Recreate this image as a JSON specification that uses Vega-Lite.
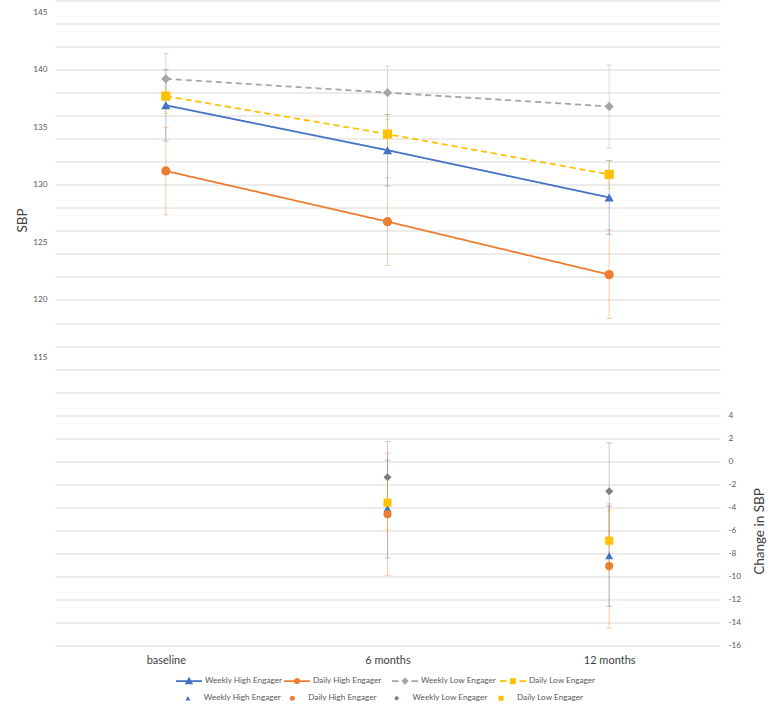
{
  "$schema": "https://vega.github.io/schema/vega-lite/v6.json",
  "width": 665,
  "height": 645,
  "autosize": {"type": "none"},
  "padding": {"left": 55, "top": 0.5, "right": 54, "bottom": 65.5},
  "background": "white",
  "config": {
    "font": "Lato",
    "view": {"stroke": null},
    "axis": {
      "labelColor": "#595959",
      "titleColor": "#404040",
      "titleFontWeight": "normal",
      "ticks": false,
      "domain": false,
      "grid": false
    }
  },
  "datasets": {
    "sbp": [
      {"time": "baseline", "series": "Weekly High Engager", "sbp": 136.9, "lo": 133.8, "hi": 140.0},
      {"time": "baseline", "series": "Daily High Engager", "sbp": 131.2, "lo": 127.4, "hi": 135.0},
      {"time": "baseline", "series": "Weekly Low Engager", "sbp": 139.2, "lo": 137.0, "hi": 141.4},
      {"time": "baseline", "series": "Daily Low Engager", "sbp": 137.7, "lo": 136.2, "hi": 139.2},
      {"time": "6 months", "series": "Weekly High Engager", "sbp": 133.0, "lo": 129.9, "hi": 136.1},
      {"time": "6 months", "series": "Daily High Engager", "sbp": 126.8, "lo": 123.0, "hi": 130.6},
      {"time": "6 months", "series": "Weekly Low Engager", "sbp": 138.0, "lo": 135.7, "hi": 140.3},
      {"time": "6 months", "series": "Daily Low Engager", "sbp": 134.4, "lo": 132.7, "hi": 136.1},
      {"time": "12 months", "series": "Weekly High Engager", "sbp": 128.9, "lo": 125.7, "hi": 132.1},
      {"time": "12 months", "series": "Daily High Engager", "sbp": 122.2, "lo": 118.4, "hi": 126.1},
      {"time": "12 months", "series": "Weekly Low Engager", "sbp": 136.8, "lo": 133.2, "hi": 140.4},
      {"time": "12 months", "series": "Daily Low Engager", "sbp": 130.9, "lo": 129.7, "hi": 132.1}
    ],
    "change": [
      {"time": "6 months", "series": "Weekly High Engager", "chg": -4.1, "lo": -8.4, "hi": 0.1},
      {"time": "6 months", "series": "Daily High Engager", "chg": -4.6, "lo": -9.9, "hi": 0.7},
      {"time": "6 months", "series": "Weekly Low Engager", "chg": -1.4, "lo": -4.5, "hi": 1.7},
      {"time": "6 months", "series": "Daily Low Engager", "chg": -3.6, "lo": -5.9, "hi": -1.3},
      {"time": "12 months", "series": "Weekly High Engager", "chg": -8.2, "lo": -12.6, "hi": -3.9},
      {"time": "12 months", "series": "Daily High Engager", "chg": -9.1, "lo": -14.5, "hi": -3.7},
      {"time": "12 months", "series": "Weekly Low Engager", "chg": -2.6, "lo": -6.8, "hi": 1.6},
      {"time": "12 months", "series": "Daily Low Engager", "chg": -6.9, "lo": -9.5, "hi": -4.3}
    ],
    "groups": [
      {"series": "Weekly High Engager"},
      {"series": "Daily High Engager"},
      {"series": "Weekly Low Engager"},
      {"series": "Daily Low Engager"}
    ]
  },
  "resolve": {
    "scale": {"y": "independent", "color": "independent", "shape": "independent", "stroke": "independent", "strokeDash": "independent"}
  },
  "layer": [
    {
      "data": {"name": "sbp"},
      "layer": [
        {
          "mark": {"type": "errorbar", "ticks": {"size": 6}, "thickness": 1, "opacity": 0.4},
          "encoding": {
            "x": {
              "field": "time", "type": "ordinal",
              "scale": {"type": "point", "domain": ["baseline", "6 months", "12 months"], "padding": 0.5},
              "axis": {"title": null, "labelAngle": 0, "labelFontSize": 11, "labelPadding": 9, "labelColor": "#404040"}
            },
            "y": {
              "field": "hi", "type": "quantitative",
              "scale": {"domain": [90, 146], "zero": false, "nice": false},
              "axis": {
                "orient": "left", "title": "SBP", "values": [115, 120, 125, 130, 135, 140, 145],
                "labelFontSize": 8.2, "labelPadding": 8, "titleFontSize": 13.5,
                "titleAngle": 270, "titleBaseline": "middle", "titleX": -33, "titleY": 219.5
              }
            },
            "y2": {"field": "lo"},
            "color": {"field": "series", "type": "nominal", "scale": {"domain": ["Weekly High Engager", "Daily High Engager", "Weekly Low Engager", "Daily Low Engager"], "range": ["#4472C4", "#ED7D31", "#A5A5A5", "#FFC000"]}, "legend": null}
          }
        },
        {
          "mark": {"type": "line", "strokeWidth": 1.8},
          "encoding": {
            "x": {
              "field": "time", "type": "ordinal",
              "scale": {"type": "point", "domain": ["baseline", "6 months", "12 months"], "padding": 0.5},
              "axis": {"title": null, "labelAngle": 0, "labelFontSize": 11, "labelPadding": 9, "labelColor": "#404040"}
            },
            "y": {
              "field": "sbp", "type": "quantitative",
              "scale": {"domain": [90, 146], "zero": false, "nice": false},
              "axis": {
                "orient": "left", "title": "SBP", "values": [115, 120, 125, 130, 135, 140, 145],
                "labelFontSize": 8.2, "labelPadding": 8, "titleFontSize": 13.5,
                "titleAngle": 270, "titleBaseline": "middle", "titleX": -33, "titleY": 219.5
              }
            },
            "color": {"field": "series", "type": "nominal", "scale": {"domain": ["Weekly High Engager", "Daily High Engager", "Weekly Low Engager", "Daily Low Engager"], "range": ["#4472C4", "#ED7D31", "#A5A5A5", "#FFC000"]}, "legend": null},
            "strokeDash": {"field": "series", "type": "nominal", "scale": {"domain": ["Weekly High Engager", "Daily High Engager", "Weekly Low Engager", "Daily Low Engager"], "range": [[1, 0], [1, 0], [6, 4], [6, 4]]}, "legend": null}
          }
        },
        {
          "mark": {"type": "point", "filled": true, "opacity": 1, "size": 85},
          "encoding": {
            "x": {
              "field": "time", "type": "ordinal",
              "scale": {"type": "point", "domain": ["baseline", "6 months", "12 months"], "padding": 0.5},
              "axis": {"title": null, "labelAngle": 0, "labelFontSize": 11, "labelPadding": 9, "labelColor": "#404040"}
            },
            "y": {
              "field": "sbp", "type": "quantitative",
              "scale": {"domain": [90, 146], "zero": false, "nice": false},
              "axis": {
                "orient": "left", "title": "SBP", "values": [115, 120, 125, 130, 135, 140, 145],
                "labelFontSize": 8.2, "labelPadding": 8, "titleFontSize": 13.5,
                "titleAngle": 270, "titleBaseline": "middle", "titleX": -33, "titleY": 219.5
              }
            },
            "color": {"field": "series", "type": "nominal", "scale": {"domain": ["Weekly High Engager", "Daily High Engager", "Weekly Low Engager", "Daily Low Engager"], "range": ["#4472C4", "#ED7D31", "#A5A5A5", "#FFC000"]}, "legend": null},
            "shape": {"field": "series", "type": "nominal", "scale": {"domain": ["Weekly High Engager", "Daily High Engager", "Weekly Low Engager", "Daily Low Engager"], "range": ["triangle-up", "circle", "diamond", "square"]}, "legend": null}
          }
        }
      ]
    },
    {
      "data": {"name": "change"},
      "layer": [
        {
          "mark": {"type": "errorbar", "ticks": {"size": 6}, "thickness": 1, "opacity": 0.4},
          "encoding": {
            "x": {
              "field": "time", "type": "ordinal",
              "scale": {"type": "point", "domain": ["baseline", "6 months", "12 months"], "padding": 0.5},
              "axis": {"title": null, "labelAngle": 0, "labelFontSize": 11, "labelPadding": 9, "labelColor": "#404040"}
            },
            "y": {
              "field": "hi", "type": "quantitative",
              "scale": {"domain": [-16, 40], "zero": false, "nice": false},
              "axis": {
                "orient": "right", "title": "Change in SBP",
                "values": [-16, -14, -12, -10, -8, -6, -4, -2, 0, 2, 4, 6, 8, 10, 12, 14, 16, 18, 20, 22, 24, 26, 28, 30, 32, 34, 36, 38, 40],
                "labelExpr": "datum.value > 4 ? '' : '' + datum.value",
                "grid": true, "gridColor": "#D9D9D9", "gridWidth": 1,
                "labelFontSize": 8.2, "labelPadding": 8, "titleFontSize": 13.5,
                "titleAngle": 270, "titleBaseline": "middle", "titleX": 39, "titleY": 530.5
              }
            },
            "y2": {"field": "lo"},
            "color": {
              "field": "series", "type": "nominal",
              "scale": {"domain": ["Weekly High Engager", "Daily High Engager", "Weekly Low Engager", "Daily Low Engager"], "range": ["#4472C4", "#ED7D31", "#7F7F7F", "#FFC000"]},
              "legend": {"orient": "none", "legendX": 128.8, "legendY": 693.3, "direction": "horizontal", "gridAlign": "all", "title": null, "symbolSize": 25, "symbolStrokeWidth": 0, "symbolOpacity": 1, "labelOffset": 11.8, "columnPadding": 6.4, "labelFontSize": 8.2, "labelColor": "#595959", "padding": 0}
            }
          }
        },
        {
          "mark": {"type": "point", "filled": true, "opacity": 1, "size": 65},
          "encoding": {
            "x": {
              "field": "time", "type": "ordinal",
              "scale": {"type": "point", "domain": ["baseline", "6 months", "12 months"], "padding": 0.5},
              "axis": {"title": null, "labelAngle": 0, "labelFontSize": 11, "labelPadding": 9, "labelColor": "#404040"}
            },
            "y": {
              "field": "chg", "type": "quantitative",
              "scale": {"domain": [-16, 40], "zero": false, "nice": false},
              "axis": {
                "orient": "right", "title": "Change in SBP",
                "values": [-16, -14, -12, -10, -8, -6, -4, -2, 0, 2, 4, 6, 8, 10, 12, 14, 16, 18, 20, 22, 24, 26, 28, 30, 32, 34, 36, 38, 40],
                "labelExpr": "datum.value > 4 ? '' : '' + datum.value",
                "grid": true, "gridColor": "#D9D9D9", "gridWidth": 1,
                "labelFontSize": 8.2, "labelPadding": 8, "titleFontSize": 13.5,
                "titleAngle": 270, "titleBaseline": "middle", "titleX": 39, "titleY": 530.5
              }
            },
            "color": {
              "field": "series", "type": "nominal",
              "scale": {"domain": ["Weekly High Engager", "Daily High Engager", "Weekly Low Engager", "Daily Low Engager"], "range": ["#4472C4", "#ED7D31", "#7F7F7F", "#FFC000"]},
              "legend": {"orient": "none", "legendX": 128.8, "legendY": 693.3, "direction": "horizontal", "gridAlign": "all", "title": null, "symbolSize": 25, "symbolStrokeWidth": 0, "symbolOpacity": 1, "labelOffset": 11.8, "columnPadding": 6.4, "labelFontSize": 8.2, "labelColor": "#595959", "padding": 0}
            },
            "shape": {
              "field": "series", "type": "nominal",
              "scale": {"domain": ["Weekly High Engager", "Daily High Engager", "Weekly Low Engager", "Daily Low Engager"], "range": ["triangle-up", "circle", "diamond", "square"]},
              "legend": {"orient": "none", "legendX": 128.8, "legendY": 693.3, "direction": "horizontal", "gridAlign": "all", "title": null, "symbolSize": 25, "symbolStrokeWidth": 0, "symbolOpacity": 1, "labelOffset": 11.8, "columnPadding": 6.4, "labelFontSize": 8.2, "labelColor": "#595959", "padding": 0}
            }
          }
        }
      ]
    },
    {
      "data": {"name": "groups"},
      "mark": {"type": "point", "filled": true, "opacity": 0},
      "encoding": {
        "color": {
          "field": "series", "type": "nominal",
          "scale": {"domain": ["Weekly High Engager", "Daily High Engager", "Weekly Low Engager", "Daily Low Engager"], "range": ["#4472C4", "#ED7D31", "#A5A5A5", "#FFC000"]},
          "legend": {"orient": "none", "legendX": 120, "legendY": 666.5, "direction": "horizontal", "gridAlign": "all", "title": null, "symbolSize": 676, "symbolStrokeWidth": 1.8, "symbolOpacity": 1, "labelOffset": 2, "columnPadding": -3.6, "labelFontSize": 8.2, "labelColor": "#595959", "padding": 0}
        },
        "stroke": {
          "field": "series", "type": "nominal",
          "scale": {"domain": ["Weekly High Engager", "Daily High Engager", "Weekly Low Engager", "Daily Low Engager"], "range": ["#4472C4", "#ED7D31", "#A5A5A5", "#FFC000"]},
          "legend": {"orient": "none", "legendX": 120, "legendY": 666.5, "direction": "horizontal", "gridAlign": "all", "title": null, "symbolSize": 676, "symbolStrokeWidth": 1.8, "symbolOpacity": 1, "labelOffset": 2, "columnPadding": -3.6, "labelFontSize": 8.2, "labelColor": "#595959", "padding": 0}
        },
        "shape": {
          "field": "series", "type": "nominal",
          "scale": {
            "domain": ["Weekly High Engager", "Daily High Engager", "Weekly Low Engager", "Daily Low Engager"],
            "range": [
              "M-1,0H1M0,-0.2L0.2,0.16H-0.2Z",
              "M-1,0H1M0.17,0L0.147,0.085L0.085,0.147L0,0.17L-0.085,0.147L-0.147,0.085L-0.17,0L-0.147,-0.085L-0.085,-0.147L0,-0.17L0.085,-0.147L0.147,-0.085Z",
              "M-1,0H-0.5M0.5,0H1M0,-0.18L0.18,0L0,0.18L-0.18,0Z",
              "M-1,0H-0.5M0.5,0H1M-0.16,-0.16H0.16V0.16H-0.16Z"
            ]
          },
          "legend": {"orient": "none", "legendX": 120, "legendY": 666.5, "direction": "horizontal", "gridAlign": "all", "title": null, "symbolSize": 676, "symbolStrokeWidth": 1.8, "symbolOpacity": 1, "labelOffset": 2, "columnPadding": -3.6, "labelFontSize": 8.2, "labelColor": "#595959", "padding": 0}
        }
      }
    }
  ]
}
